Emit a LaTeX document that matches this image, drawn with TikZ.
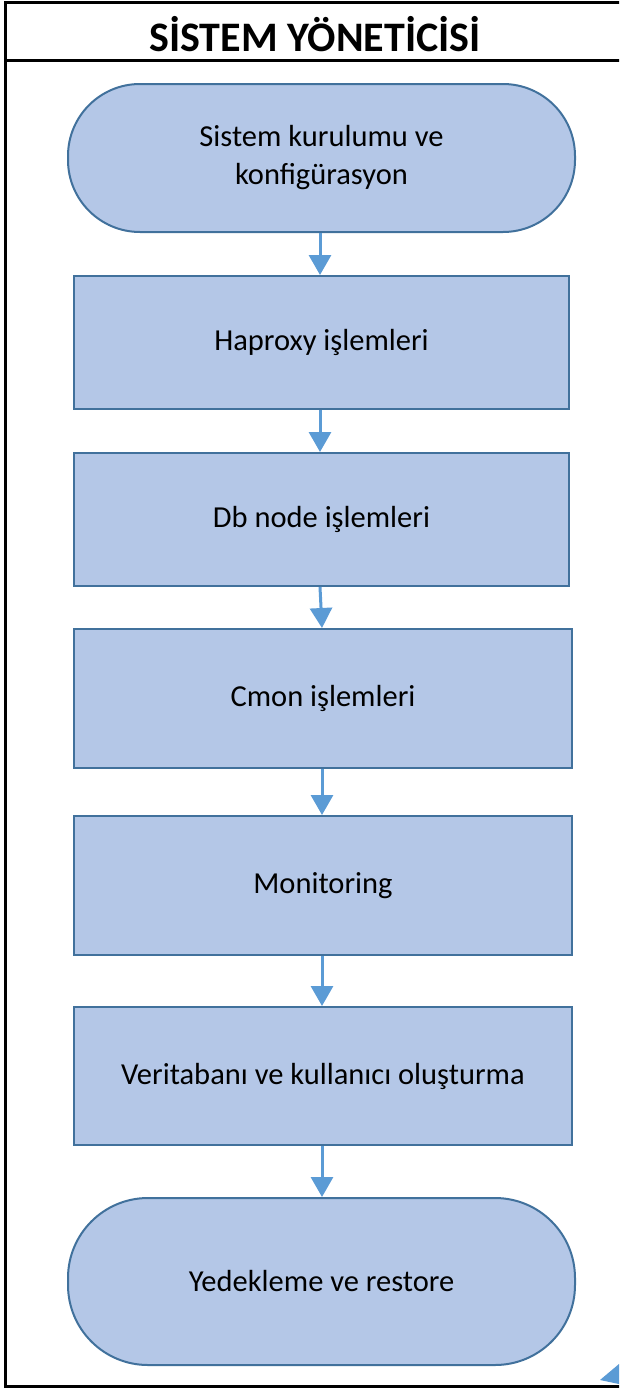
\documentclass[tikz,border=0pt]{standalone}
\usepackage{fontspec}
\setmainfont{Carlito}
\usetikzlibrary{arrows.meta}
\definecolor{boxfill}{HTML}{B4C7E7}
\definecolor{boxline}{HTML}{41719C}
\definecolor{arrowc}{HTML}{5B9BD5}
\begin{document}
\begin{tikzpicture}[x=1pt,y=-1pt,
  stepbox/.style={draw=boxline,fill=boxfill,line width=2pt,rectangle,inner sep=0pt,align=center,font=\fontsize{30.5}{38}\selectfont},
  term/.style={stepbox,rounded corners=72pt},
  flow/.style={draw=arrowc,line width=3pt,-{Triangle[width=22pt,length=20pt]}}]
\clip (0,0) rectangle (619,1389);
\fill[white] (0,0) rectangle (619,1389);
\draw[line width=3pt] (5,1386) -- (5,3) -- (630,3) -- (630,1386) -- cycle;
\draw[line width=3pt] (5,61) -- (630,61);
\node[font=\fontsize{42}{48}\selectfont\bfseries] (title) at (315,34) {SİSTEM YÖNETİCİSİ};
\node[term,minimum width=507pt,minimum height=148pt] (t1) at (321.5,158) {Sistem kurulumu ve\\konfigürasyon};
\node[stepbox,minimum width=495pt,minimum height=133pt] (b1) at (321.5,342.5) {Haproxy işlemleri};
\node[stepbox,minimum width=495pt,minimum height=133pt] (b2) at (321.5,519.5) {Db node işlemleri};
\node[stepbox,minimum width=498pt,minimum height=139pt] (b3) at (323,698.5) {Cmon işlemleri};
\node[stepbox,minimum width=498pt,minimum height=139pt] (b4) at (323,885.5) {Monitoring};
\node[stepbox,minimum width=498pt,minimum height=138pt] (b5) at (323,1076) {Veritabanı ve kullanıcı oluşturma};
\node[term,minimum width=507pt,minimum height=167pt,rounded corners=80pt] (t2) at (321.5,1281.5) {Yedekleme ve restore};
\coordinate (a1s) at (320,233); \coordinate (a1e) at (320,275);
\draw[flow] (a1s) -- (a1e);
\coordinate (a2s) at (320,410); \coordinate (a2e) at (320,452);
\draw[flow] (a2s) -- (a2e);
\coordinate (a3s) at (320,587); \coordinate (a3e) at (322,628);
\draw[flow] (a3s) -- (a3e);
\coordinate (a4s) at (322,769); \coordinate (a4e) at (322,815);
\draw[flow] (a4s) -- (a4e);
\coordinate (a5s) at (322,956); \coordinate (a5e) at (322,1006);
\draw[flow] (a5s) -- (a5e);
\coordinate (a6s) at (322,1146); \coordinate (a6e) at (322,1197);
\draw[flow] (a6s) -- (a6e);
\fill[arrowc] (600,1380) -- (619,1364) -- (619,1384) -- cycle;
\end{tikzpicture}
\end{document}
